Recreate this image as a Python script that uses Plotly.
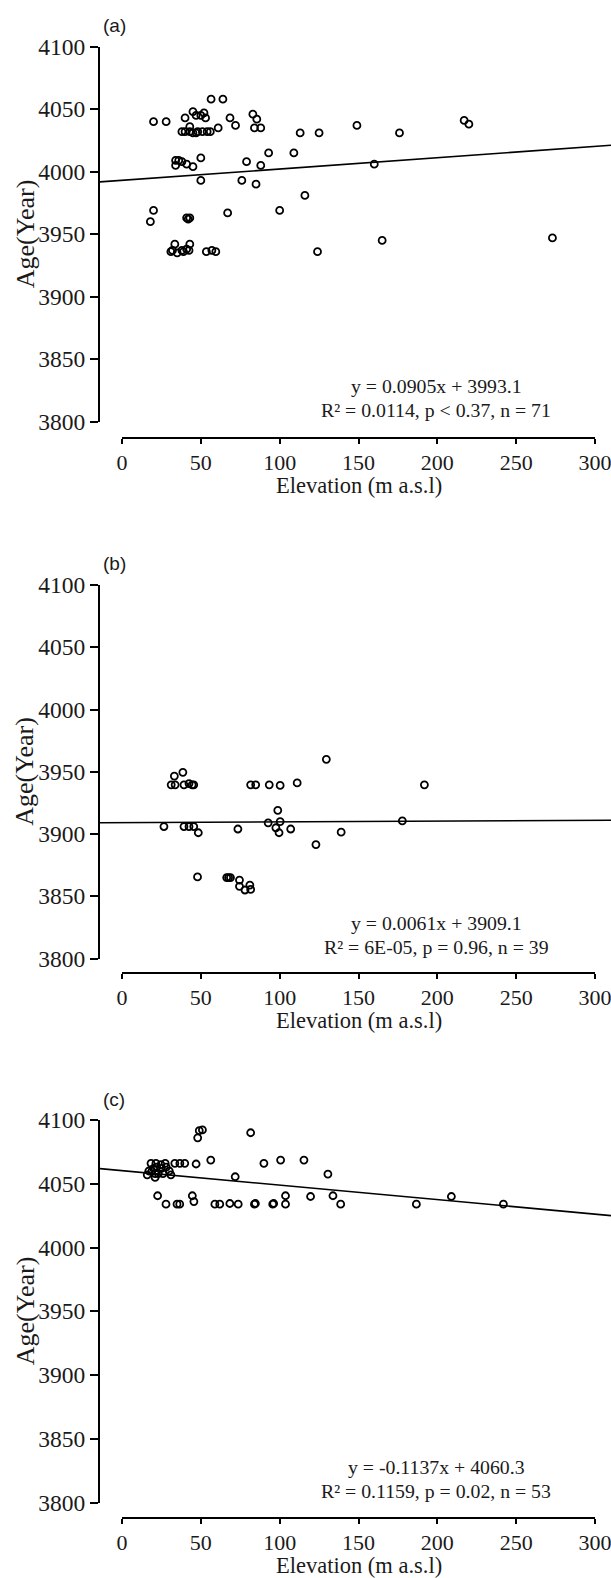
import plotly.graph_objects as go

W, H = 611, 1578

# ---------------- data ----------------
elev_a = [20, 28, 40, 45, 47, 50, 52, 53, 56.5, 64, 68.5, 72, 83, 85.5, 84, 88, 113, 125, 149, 176, 217, 220,
          38, 40, 43, 45, 48, 51, 54, 56, 43, 61,
          34, 34, 38, 41, 45, 50, 79, 88, 93, 109, 160, 50, 76, 85, 116,
          20, 18, 41, 43, 42, 67, 100, 165, 273, 124,
          32, 33.5, 38, 41, 43, 42.5, 53.5, 57, 59.5, 35, 31, 39, 36, 47]
age_a = [4040, 4040, 4043, 4048, 4045, 4045, 4047, 4043, 4058, 4058, 4043, 4037, 4046, 4042, 4035, 4035, 4031, 4031, 4037, 4031, 4041, 4038,
         4032, 4032, 4032, 4031, 4032, 4032, 4032, 4032, 4036, 4035,
         4009, 4005, 4008, 4006, 4004, 4011, 4008, 4005, 4015, 4015, 4006, 3993, 3993, 3990, 3981,
         3969, 3960, 3963, 3963, 3962, 3967, 3969, 3945, 3947, 3936,
         3937, 3942, 3937, 3938, 3942, 3937, 3936, 3937, 3936, 3935, 3936, 3936, 4009, 4031]

elev_b = [129.6, 38.6, 33.2, 31.2, 33.7, 39.3, 42.5, 44.5, 45.5, 81.6, 84.8, 93.4, 100.3, 111.1, 191.8,
          98.8, 26.6, 39.3, 42.5, 45.5, 48.4, 73.5, 92.7, 97.6, 100.3, 99.6, 107, 123, 139, 177.8,
          47.9, 66.4, 67.6, 68.8, 74.5, 74.5, 78, 81.1, 81.6]
age_b = [3960, 3949.5, 3946.5, 3939.5, 3939.5, 3939.5, 3940.5, 3939.5, 3939.5, 3939.5, 3939.5, 3939.5, 3939, 3941, 3939.5,
         3919, 3906, 3906, 3906, 3906, 3901, 3904, 3909, 3905, 3910, 3901, 3904, 3891.5, 3901.5, 3910.5,
         3865.5, 3865, 3865, 3865, 3863, 3858, 3855, 3859, 3855.5]

elev_c = [49, 51, 48, 81.6, 56.3, 90, 100.6, 115.4, 18.4, 21.5, 24.7, 27.4, 33.5, 36.7, 39.8, 47,
          16, 19, 21, 23, 20, 22, 28, 30, 31, 21,
          71.8, 22.6, 27.9, 34.9, 36.6, 44.6, 45.6, 58.9, 62, 68.4, 73.7, 84, 84.6, 95.6, 96.2, 103.7, 103.7,
          119.6, 130.6, 133.8, 138.7, 186.7, 208.9, 241.9, 17, 25, 26]
age_c = [4091.6, 4092.2, 4086, 4090, 4068.6, 4066, 4068.6, 4068.6, 4066, 4066, 4065, 4066, 4066, 4066, 4066, 4065.5,
         4057, 4060, 4055, 4058, 4062, 4063, 4063, 4060, 4057, 4058,
         4055.5, 4040.6, 4034, 4034, 4034, 4040.6, 4036, 4034, 4034, 4034.5, 4034, 4034, 4034.5, 4034, 4034.5, 4040.6, 4034,
         4040, 4057.6, 4040.6, 4034, 4034, 4040, 4034, 4060, 4062, 4058]

slopes = [0.0905, 0.0061, -0.1137]
intercepts = [3993.1, 3909.1, 4060.3]
eq_texts = ["y = 0.0905x + 3993.1", "y = 0.0061x + 3909.1", "y = -0.1137x + 4060.3"]
stat_texts = ["R² = 0.0114, p < 0.37, n = 71", "R² = 6E-05, p = 0.96, n = 39", "R² = 0.1159, p = 0.02, n = 53"]
panel_labels = ["(a)", "(b)", "(c)"]
x_ticks = [0, 50, 100, 150, 200, 250, 300]
y_ticks = [3800, 3850, 3900, 3950, 4000, 4050, 4100]
x_title = "Elevation (m a.s.l)"
y_title = "Age(Year)"

xs = [elev_a, elev_b, elev_c]
ys = [age_a, age_b, age_c]

# ---------------- layout geometry (pixels) ----------------
X0PX, X300PX = 122, 595          # pixel of x=0 and x=300
YAXIS_PX = 100                   # y-axis line position
pxu = (X300PX - X0PX) / 300.0
xr = [(YAXIS_PX - X0PX) / pxu, (W - X0PX) / pxu]
geo = [  # top(4100), bottom(3800), x-axis line
    dict(top=46.7, bot=421.7, xax=438),
    dict(top=585, bot=958.5, xax=973),
    dict(top=1120, bot=1502.5, xax=1518),
]

def py(p):
    return 1 - p / H

SERIF = "Liberation Serif, Times New Roman, serif"
SANS = "Liberation Sans, Arial, sans-serif"
TXT = "#1a1a1a"

fig = go.Figure()
annotations = []
shapes = []

for i in range(3):
    g = geo[i]
    xa = "x" if i == 0 else f"x{i+1}"
    ya = "y" if i == 0 else f"y{i+1}"
    xk = "xaxis" if i == 0 else f"xaxis{i+1}"
    yk = "yaxis" if i == 0 else f"yaxis{i+1}"

    fig.add_trace(go.Scatter(
        x=xs[i], y=ys[i], mode="markers", xaxis=xa, yaxis=ya,
        marker=dict(symbol="circle-open", size=7, color="black", line=dict(width=1.8, color="black")),
        showlegend=False, hoverinfo="x+y"))
    fig.add_trace(go.Scatter(
        x=xr, y=[slopes[i] * v + intercepts[i] for v in xr], mode="lines", xaxis=xa, yaxis=ya,
        line=dict(color="black", width=1.6), showlegend=False, hoverinfo="skip"))

    fig.layout[xk] = dict(
        domain=[YAXIS_PX / W, 1], range=xr, anchor="free", position=py(g["xax"]),
        showline=False, showgrid=False, zeroline=False, automargin=False,
        tickmode="array", tickvals=x_ticks, ticks="outside", ticklen=5, tickwidth=2, tickcolor="black",
        ticklabeloverflow="allow",
        tickfont=dict(family=SERIF, size=22, color=TXT),
    )
    fig.layout[yk] = dict(
        domain=[py(g["bot"]), py(g["top"])], range=[3800, 4100], anchor=xa,
        showline=True, linewidth=2, linecolor="black", showgrid=False, zeroline=False, automargin=False,
        tickmode="array", tickvals=y_ticks, ticks="outside", ticklen=8, tickwidth=2, tickcolor="black",
        ticklabeloverflow="allow",
        tickfont=dict(family=SERIF, size=23.5, color=TXT),
    )
    # x axis line spanning 0..300
    shapes.append(dict(type="line", xref=xa, yref="paper", x0=0, x1=300,
                       y0=py(g["xax"]), y1=py(g["xax"]), line=dict(color="black", width=2)))

    # panel label
    annotations.append(dict(text=panel_labels[i], xref="paper", yref="paper", x=101 / W, y=py(g["top"] - 21),
                            xanchor="left", yanchor="middle", showarrow=False,
                            font=dict(family=SANS, size=19, color=TXT)))
    # y title
    annotations.append(dict(text=y_title, xref="paper", yref="paper", x=25 / W, y=py((g["top"] + g["bot"]) / 2),
                            xanchor="center", yanchor="middle", textangle=-90, showarrow=False,
                            font=dict(family=SERIF, size=26, color=TXT)))
    # x title
    annotations.append(dict(text=x_title, xref=xa, yref="paper", x=150, y=py(g["xax"] + 47),
                            xanchor="center", yanchor="middle", showarrow=False,
                            font=dict(family=SERIF, size=22.5, color=TXT)))
    # equation and stats
    annotations.append(dict(text=eq_texts[i], xref="paper", yref="paper", x=436 / W, y=py(g["bot"] - 36),
                            xanchor="center", yanchor="middle", showarrow=False,
                            font=dict(family=SERIF, size=19.8, color=TXT)))
    annotations.append(dict(text=stat_texts[i], xref="paper", yref="paper", x=436 / W, y=py(g["bot"] - 12),
                            xanchor="center", yanchor="middle", showarrow=False,
                            font=dict(family=SERIF, size=19.8, color=TXT)))

fig.update_layout(
    width=W, height=H, margin=dict(l=0, r=0, t=0, b=0, autoexpand=False),
    paper_bgcolor="white", plot_bgcolor="white",
    annotations=annotations, shapes=shapes, showlegend=False,
)

fig.write_html("out.html")
